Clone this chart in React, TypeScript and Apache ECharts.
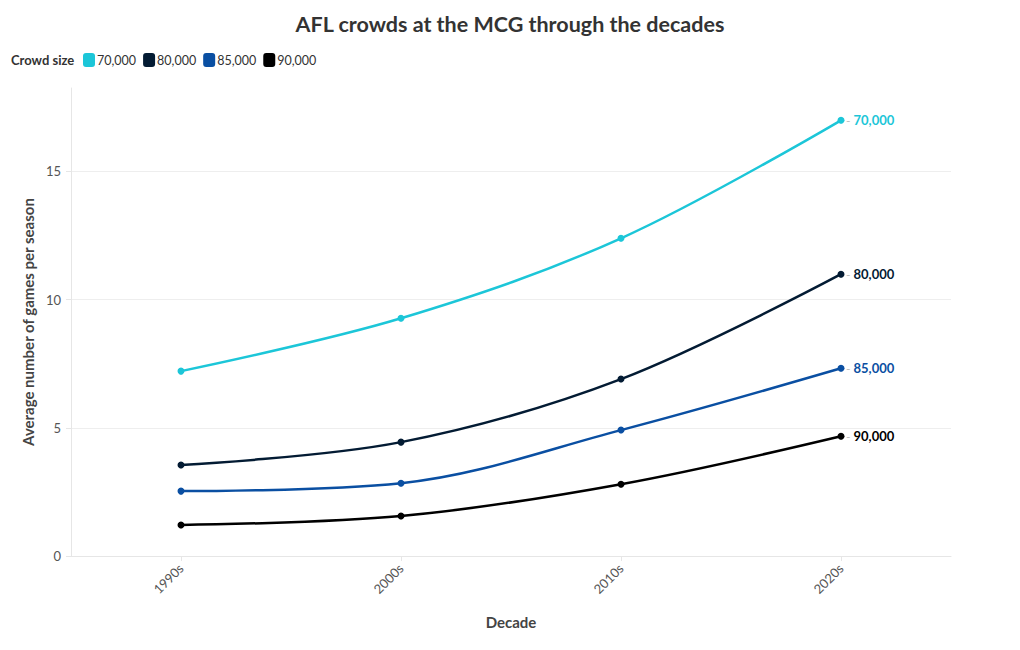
import React, { useEffect, useRef } from "react";
import * as echarts from "echarts";

const decades = ["1990s", "2000s", "2010s", "2020s"];
const seriesNames = ["70,000", "80,000", "85,000", "90,000"];
const crowd70k = [7.21, 9.27, 12.39, 16.99];
const crowd80k = [3.55, 4.44, 6.9, 10.99];
const crowd85k = [2.53, 2.84, 4.91, 7.32];
const crowd90k = [1.21, 1.56, 2.8, 4.67];
const colors = ["#1cc6d8", "#031b33", "#0a4fa2", "#000000"];

const FONT = "Lato, 'Noto Sans', sans-serif";

export default function App() {
  const ref = useRef<HTMLDivElement>(null);
  useEffect(() => {
    if (!ref.current) return;
    const chart = echarts.init(ref.current, null, { renderer: "svg" });
    const values = [crowd70k, crowd80k, crowd85k, crowd90k];
    const series: any[] = values.map((data, i) => ({
      name: seriesNames[i],
      type: "line",
      data,
      smooth: 0.35,
      symbol: "circle",
      symbolSize: 7,
      showSymbol: true,
      lineStyle: { width: 2.5, color: colors[i] },
      itemStyle: { color: colors[i] },
      endLabel: {
        show: true,
        distance: 5,
        formatter: () => `{d|-} {v|${seriesNames[i]}}`,
        rich: {
          d: { color: "#bbbbbb", fontSize: 12, fontFamily: FONT },
          v: { color: colors[i], fontSize: 13, fontWeight: "bold", fontFamily: FONT },
        },
      },
      z: 10 - i,
    }));
    chart.setOption({
      animation: false,
      textStyle: { fontFamily: FONT },
      title: {
        text: "AFL crowds at the MCG through the decades",
        left: "center",
        top: 8,
        textStyle: { fontFamily: FONT, fontSize: 21.5, fontWeight: "bold", color: "#333333" },
      },
      graphic: [
        {
          type: "text",
          left: 11,
          top: 53,
          style: { text: "Crowd size", fontFamily: FONT, fontSize: 13, fontWeight: "bold", fill: "#333333" },
        },
      ],
      legend: {
        left: 83,
        top: 53,
        padding: 0,
        icon: "roundRect",
        itemWidth: 12,
        itemHeight: 14,
        itemGap: 7,
        textStyle: { fontFamily: FONT, fontSize: 12.5, color: "#333333", padding: [0, 0, 0, -3] },
        data: seriesNames,
      },
      grid: { left: 71, right: 69, top: 88, bottom: 94, containLabel: false },
      xAxis: {
        type: "category",
        data: decades,
        boundaryGap: true,
        name: "Decade",
        nameLocation: "middle",
        nameGap: 58,
        nameTextStyle: { fontFamily: FONT, fontSize: 15, fontWeight: "bold", color: "#444444" },
        axisLine: { show: true, lineStyle: { color: "#e6e6e6" } },
        axisTick: { show: true, alignWithLabel: true, length: 5, lineStyle: { color: "#e6e6e6" } },
        axisLabel: { rotate: 45, fontSize: 13, color: "#555555", fontFamily: FONT, margin: 10 },
        splitLine: { show: false },
      },
      yAxis: {
        type: "value",
        min: 0,
        max: 18.25,
        interval: 5,
        name: "Average number of games per season",
        nameLocation: "middle",
        nameGap: 35,
        nameTextStyle: { fontFamily: FONT, fontSize: 15, fontWeight: "bold", color: "#444444" },
        axisLine: { show: true, lineStyle: { color: "#e6e6e6" } },
        axisTick: { show: true, length: 5, lineStyle: { color: "#e6e6e6" } },
        axisLabel: {
          fontSize: 13,
          color: "#555555",
          fontFamily: FONT,
          margin: 10,
          showMaxLabel: false,
          formatter: (v: number) => (v % 5 === 0 ? String(v) : ""),
        },
        splitLine: {
          show: true,
          showMinLine: false,
          showMaxLine: false,
          lineStyle: { color: "#eeeeee", width: 1 },
        },
      },
      series,
    });
    return () => chart.dispose();
  }, []);
  return (
    <div
      ref={ref}
      style={{ position: "fixed", left: 0, top: 0, width: 1020, height: 650, background: "#ffffff" }}
    />
  );
}
